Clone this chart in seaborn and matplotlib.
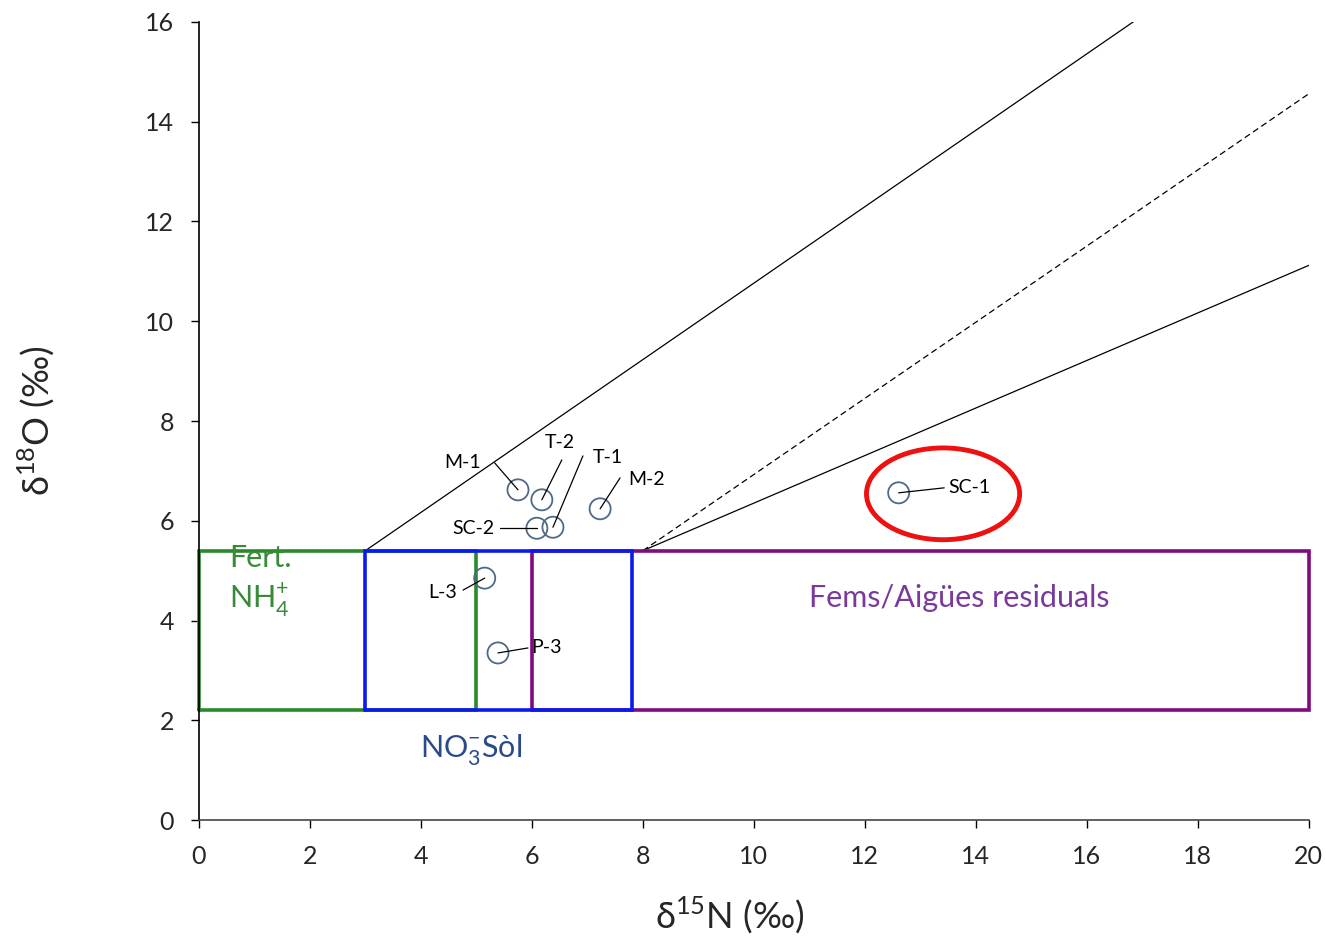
import numpy as np
import pandas as pd
import matplotlib
matplotlib.use("Agg")
import matplotlib.pyplot as plt
import seaborn as sns
from matplotlib.patches import Ellipse

# ---- data ----
sample_names = ["M-1", "T-2", "SC-2", "T-1", "M-2", "L-3", "P-3", "SC-1"]
d15N = [5.75, 6.18, 6.09, 6.38, 7.23, 5.15, 5.39, 12.61]
d18O = [6.62, 6.42, 5.85, 5.87, 6.24, 4.85, 3.35, 6.56]
label_x = [4.76, 6.50, 4.94, 7.37, 8.07, 4.40, 6.27, 13.89]
label_y = [7.16, 7.56, 5.85, 7.26, 6.82, 4.57, 3.45, 6.66]
leader_x = [5.33, 6.54, 5.42, 6.92, 7.59, 4.76, 5.93, 13.43]
leader_y = [7.16, 7.22, 5.85, 7.30, 6.86, 4.61, 3.45, 6.66]

# mixing lines (endpoints)
upper_x = [3.0, 16.9]
upper_y = [5.4, 16.05]
dash_x = [8.0, 20.0]
dash_y = [5.4, 14.56]
lower_x = [8.0, 20.0]
lower_y = [5.4, 11.12]

# source boxes: (x0, x1, y0, y1)
box_names = ["Fert. NH4+", "Fems/Aigües residuals", "NO3- Sòl"]
box_x0 = [0.0, 6.0, 3.0]
box_x1 = [5.0, 20.0, 7.8]
box_y0 = [2.2, 2.2, 2.2]
box_y1 = [5.4, 5.4, 5.4]
box_colors = ["#2a8a2a", "#800a80", "#0a1aee"]

x_ticks = list(range(0, 21, 2))
y_ticks = list(range(0, 17, 2))

sns.set_theme(style="white")
plt.rcParams["font.family"] = ["Lato", "DejaVu Sans"]
plt.rcParams["mathtext.fontset"] = "custom"
plt.rcParams["mathtext.rm"] = "Lato"

fig = plt.figure(figsize=(13.26, 9.39), dpi=100)
ax = fig.add_axes([0.150, 0.1267, 0.837, 0.8499])

# boxes
for x0, x1, y0, y1, c in zip(box_x0, box_x1, box_y0, box_y1, box_colors):
    ax.plot([x0, x1, x1, x0, x0], [y0, y0, y1, y1, y0], color=c, lw=2.6,
            solid_joinstyle="miter", zorder=2, clip_on=False)

# mixing lines
sns.lineplot(x=upper_x, y=upper_y, ax=ax, color="black", lw=0.9, zorder=1)
sns.lineplot(x=dash_x, y=dash_y, ax=ax, color="black", lw=0.9, ls=(0, (5, 3)), zorder=1)
sns.lineplot(x=lower_x, y=lower_y, ax=ax, color="black", lw=0.9, zorder=1)

# samples
df = pd.DataFrame({"d15N": d15N, "d18O": d18O, "name": sample_names})
sns.scatterplot(data=df, x="d15N", y="d18O", ax=ax, s=230, marker="o",
                facecolor="none", edgecolor="#4f6a86", linewidth=1.3, zorder=4)

for nx, ny, lx, ly, sx, sy, nm in zip(d15N, d18O, label_x, label_y,
                                      leader_x, leader_y, sample_names):
    ax.plot([sx, nx], [sy, ny], color="black", lw=0.9, zorder=5)
    ax.text(lx, ly, nm, fontsize=14, ha="center", va="center", color="black", zorder=5)

# box labels
ax.text(0.55, 5.25, "Fert.", color="#3a8a3a", fontsize=22, va="center", ha="left")
ax.text(0.55, 4.4, "NH$_4^{\\mathregular{+}}$", color="#3a8a3a", fontsize=22, va="center", ha="left")
ax.text(13.71, 4.45, "Fems/Aigües residuals", color="#7a3a9a", fontsize=22, va="center", ha="center")
ax.text(4.9, 1.4, "NO$_3^{\\mathregular{-}}$Sòl", color="#2a4a8a", fontsize=22, va="center", ha="center")

# highlight ellipse
ax.add_patch(Ellipse((13.41, 6.54), 2.76, 1.84, fill=False, edgecolor="#ee1111", lw=3.5, zorder=6))

ax.set_xlim(0, 20)
ax.set_ylim(0, 16)
ax.set_xticks(x_ticks)
ax.set_yticks(y_ticks)
ax.tick_params(axis="both", labelsize=18, direction="out", length=6, width=1,
               left=True, bottom=True, color="black", pad=12)
for s in ["top", "right"]:
    ax.spines[s].set_visible(False)
ax.spines["left"].set_color("black")
ax.spines["bottom"].set_color("#444444")
for s in ["left", "bottom"]:
    ax.spines[s].set_linewidth(1.2)

ax.set_xlabel("δ$^{\\mathregular{15}}$N (‰)", fontsize=26, va="center")
ax.set_ylabel("δ$^{\\mathregular{18}}$O (‰)", fontsize=26, va="center")
ax.xaxis.set_label_coords(0.478, -0.119)
ax.yaxis.set_label_coords(-0.146, 0.5)

fig.savefig("out.png", dpi=100)
